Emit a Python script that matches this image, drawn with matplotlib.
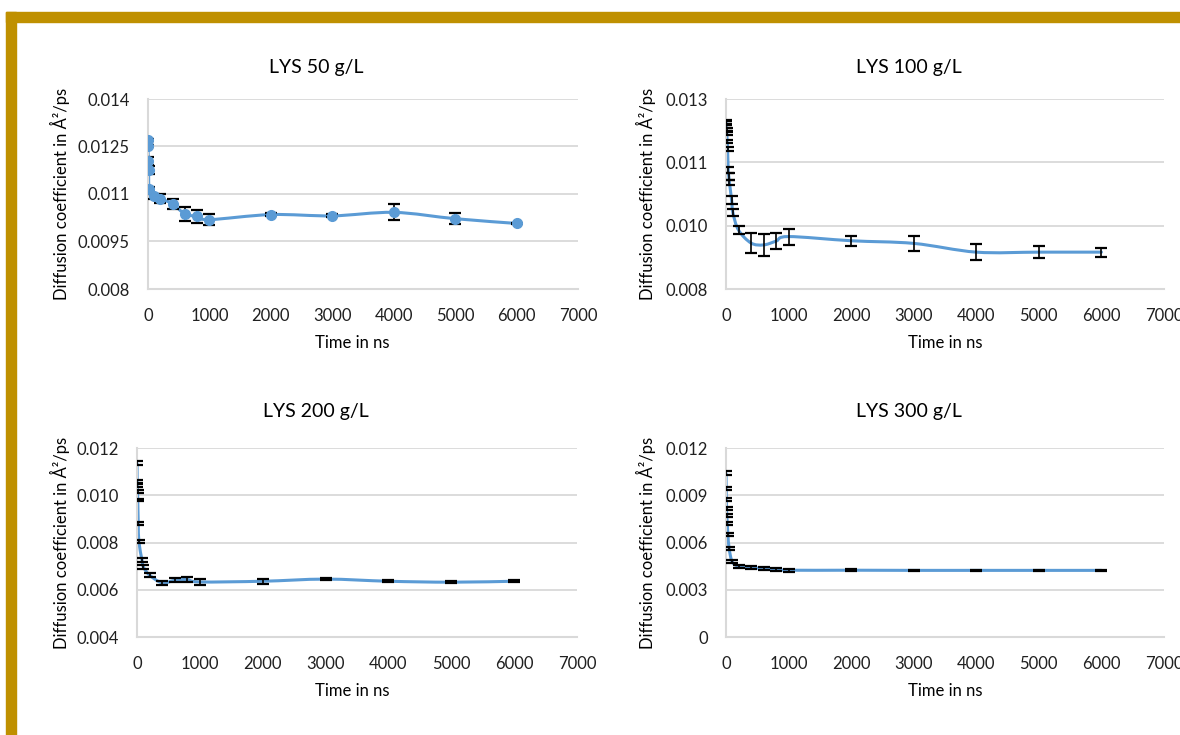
import matplotlib
matplotlib.use('Agg')
import matplotlib.pyplot as plt
from matplotlib.path import Path
from matplotlib.patches import PathPatch, Rectangle
from matplotlib.ticker import FuncFormatter
import numpy as np

plt.rcParams['font.family'] = ['Lato', 'DejaVu Sans']

W, H = 1180, 735
BLUE = '#5B9BD5'
GRID = '#D9D9D9'
GOLD = '#BF9000'

# LYS 50 g/L
t50 = [1, 2, 5, 10, 20, 100, 200, 400, 600, 800, 1000, 2000, 3000, 4000, 5000, 6000]
d50 = [0.01271, 0.01252, 0.01204, 0.01175, 0.01117, 0.01093, 0.01085, 0.01069, 0.01037,
       0.01029, 0.01019, 0.01035, 0.01031, 0.01042, 0.01022, 0.01007]
e50 = [0.00003, 0.00003, 0.00012, 0.00012, 0.00005, 0.00008, 0.00014, 0.00016, 0.00022,
       0.00020, 0.00018, 0.00005, 0.00005, 0.00025, 0.00017, 0.00002]

# LYS 100 g/L
t100 = [1, 3, 5, 8, 12, 18, 25, 35, 45, 55, 90, 110, 200, 400, 600, 800, 1000,
        2000, 3000, 4000, 5000, 6000]
d100 = [0.01240, 0.01237, 0.01228, 0.01219, 0.01210, 0.01188, 0.01168, 0.01113, 0.01096,
        0.01080, 0.01034, 0.01001, 0.00955, 0.00921, 0.00916, 0.00926, 0.00938,
        0.00927, 0.00920, 0.00897, 0.00897, 0.00897]
e100 = [0.00005, 0.00005, 0.00005, 0.00005, 0.00006, 0.00004, 0.00005, 0.00008, 0.00008,
        0.00006, 0.00010, 0.00010, 0.00010, 0.00026, 0.00029, 0.00021, 0.00021,
        0.00013, 0.00019, 0.00022, 0.00015, 0.00012]

# LYS 200 g/L
t200 = [1, 3, 5, 8, 12, 20, 30, 80, 100, 200, 400, 600, 800, 1000, 2000, 3000, 4000, 5000, 6000]
d200 = [0.01135, 0.01057, 0.01043, 0.01015, 0.00980, 0.00881, 0.00803, 0.00725, 0.00697,
        0.00662, 0.00629, 0.00640, 0.00643, 0.00633, 0.00636, 0.00645, 0.00636, 0.00632, 0.00636]
e200 = [0.00008, 0.00006, 0.00006, 0.00006, 0.00006, 0.00007, 0.00007, 0.00008, 0.00008,
        0.00008, 0.00007, 0.00008, 0.00009, 0.00012, 0.00010, 0.00005, 0.00005, 0.00005, 0.00005]

# LYS 300 g/L
t300 = [1, 3, 5, 8, 12, 20, 30, 50, 100, 200, 400, 600, 800, 1000, 2000, 3000, 4000, 5000, 6000]
d300 = [0.01039, 0.00944, 0.00874, 0.00817, 0.00774, 0.00721, 0.00653, 0.00562, 0.00477,
        0.00450, 0.00441, 0.00435, 0.00431, 0.00424, 0.00424, 0.00423, 0.00423, 0.00423, 0.00423]
e300 = [0.00012, 0.00010, 0.00010, 0.00010, 0.00010, 0.00010, 0.00010, 0.00010, 0.00010,
        0.00010, 0.00009, 0.00009, 0.00009, 0.00009, 0.00007, 0.00005, 0.00005, 0.00005, 0.00005]


def smooth_path(x, y):
    # Excel-like smoothed line (Catmull-Rom as cubic Bezier)
    p = np.column_stack([x, y]).astype(float)
    n = len(p)
    verts = [p[0]]
    codes = [Path.MOVETO]
    for i in range(n - 1):
        p0 = p[i - 1] if i > 0 else p[i]
        p1, p2 = p[i], p[i + 1]
        p3 = p[i + 2] if i + 2 < n else p[i + 1]
        verts += [p1 + (p2 - p0) / 6, p2 - (p3 - p1) / 6, p2]
        codes += [Path.CURVE4] * 3
    return Path(verts, codes)


def box(x0, x1, y0, y1):
    return [x0 / W, 1 - y1 / H, (x1 - x0) / W, (y1 - y0) / H]


fig = plt.figure(figsize=(W / 100, H / 100), dpi=100)

# gold slide frame
fig.patches.append(Rectangle((6 / W, 1 - 22 / H), 1, 10 / H, transform=fig.transFigure,
                             color=GOLD, zorder=0))
fig.patches.append(Rectangle((6 / W, 0), 10 / W, 1 - 12 / H, transform=fig.transFigure,
                             color=GOLD, zorder=0))

charts = [
    ('LYS 50 g/L', t50, d50, e50, box(148, 578, 99, 289), (0.008, 0.014, 5), 'g', True, (316, 60, 352), 4.5),
    ('LYS 100 g/L', t100, d100, e100, box(726, 1164, 99, 289), (0.008, 0.013, 4), '.3f', False, (909, 646, 945), 4.5),
    ('LYS 200 g/L', t200, d200, e200, box(137, 577, 448, 637), (0.004, 0.012, 5), '.3f', False, (316, 60, 352), 4),
    ('LYS 300 g/L', t300, d300, e300, box(726, 1164, 448, 637), (0.0, 0.012, 5), 'g', False, (909, 646, 945), 4),
]

for i, (title, t, d, e, pos, yr, fmt, markers, txt, cap) in enumerate(charts):
    ax = fig.add_axes(pos)
    ax.set_xlim(0, 7000)
    ax.set_ylim(yr[0], yr[1])
    ax.set_xticks(np.arange(0, 7001, 1000))
    ax.set_yticks(np.linspace(yr[0], yr[1], yr[2]))
    ax.yaxis.set_major_formatter(FuncFormatter(lambda v, p, f=fmt: format(v, f)))
    ax.tick_params(length=0, labelsize=12, colors='#202020')
    ax.tick_params(axis='y', pad=13)
    ax.tick_params(axis='x', pad=14)
    ax.grid(axis='y', color=GRID, lw=1.3)
    ax.set_axisbelow(True)
    for s in ['top', 'right']:
        ax.spines[s].set_visible(False)
    for s in ['left', 'bottom']:
        ax.spines[s].set_color(GRID)
        ax.spines[s].set_linewidth(1.5)

    ax.add_patch(PathPatch(smooth_path(t, d), fill=False, edgecolor=BLUE, lw=2.2,
                           capstyle='round', zorder=2))
    ax.errorbar(t, d, yerr=e, fmt='none', ecolor='black', elinewidth=1.2,
                capsize=cap, capthick=1.6, zorder=3)
    if markers:
        ax.plot(t, d, 'o', color=BLUE, ms=7, zorder=4)

    row_y = 67 if i < 2 else 412
    fig.text(txt[0] / W, 1 - row_y / H, title, ha='center', va='center', fontsize=14)
    ybot = 289 if i < 2 else 637
    ytop = 99 if i < 2 else 448
    fig.text(txt[1] / W, 1 - (ybot + ytop) / 2 / H, 'Diffusion coefficient in Å²/ps',
             rotation=90, ha='center', va='center', fontsize=12)
    fig.text(txt[2] / W, 1 - (ybot + 54) / H, 'Time in ns', ha='center', va='center', fontsize=12)

fig.savefig('out.png', dpi=100, facecolor='white')
